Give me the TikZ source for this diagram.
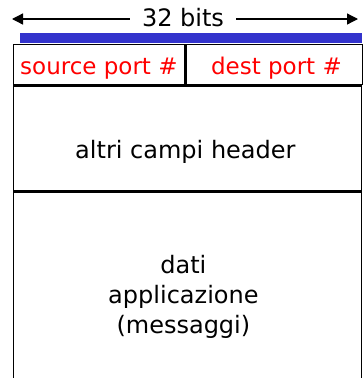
\documentclass[tikz,border=0pt]{standalone}
\usepackage{fontspec}
\setmainfont{DejaVu Sans}
\usetikzlibrary{positioning, arrows.meta, calc}
\definecolor{barblue}{RGB}{51,51,204}
\tikzstyle{field} = [%
  rectangle,
  draw=black,
  line width=1.3pt,
  inner sep=0pt,
  fill=none
]
\tikzstyle{ftext} = [%
  font=\fontsize{24}{30}\selectfont,
  text=black,
  align=center,
  inner sep=0pt
]
\tikzstyle{ptext} = [%
  font=\fontsize{23}{28}\selectfont,
  text=red,
  inner sep=0pt
]

\begin{document}
\begin{tikzpicture}[%
  x=1pt, y=-1pt,
  >={Triangle[length=11pt,width=11pt]},
  scale line/.style={->,line width=1.3pt}
]
  \useasboundingbox (0,0) rectangle (362,378);

  % Width scale
  \node[ftext,anchor=base,inner xsep=12pt] (bits) at (183,26.5) {32 bits};
  \coordinate (ltip) at (12,19);
  \coordinate (rtip) at (358,19);
  \draw[scale line] (bits.west |- ltip) -- (ltip);
  \draw[scale line] (bits.east |- rtip) -- (rtip);

  % Blue bar
  \node[fill=barblue,inner sep=0pt,minimum width=342pt,minimum height=10.3pt,anchor=south west] (bar) at (20,43) {};

  % Fields
  \node[field,minimum width=171.5pt,minimum height=40.5pt,anchor=north west] (src) at (12.5,43.5) {};
  \node[field,minimum width=177pt,minimum height=40.5pt,right=0pt of src] (dst) {};
  \node[field,minimum width=348.5pt,minimum height=105pt,anchor=north west] (hdr) at (src.south west) {};
  \node[field,minimum width=348.5pt,minimum height=200pt,below=0pt of hdr] (data) {};

  % Labels
  \node[ptext,anchor=base] (srctxt) at ([yshift=-10.25pt]src.center) {source port \#};
  \node[ptext,anchor=base] (dsttxt) at ([yshift=-10.25pt,xshift=2pt]dst.center) {dest port \#};
  \node[ftext,anchor=base] (hdrtxt) at ([yshift=-20pt,xshift=-2pt]hdr.center) {altri campi header};
  \node[ftext,below=63pt of hdr,xshift=-4pt] (datatxt) {dati\\applicazione\\(messaggi)};

\end{tikzpicture}
\end{document}
